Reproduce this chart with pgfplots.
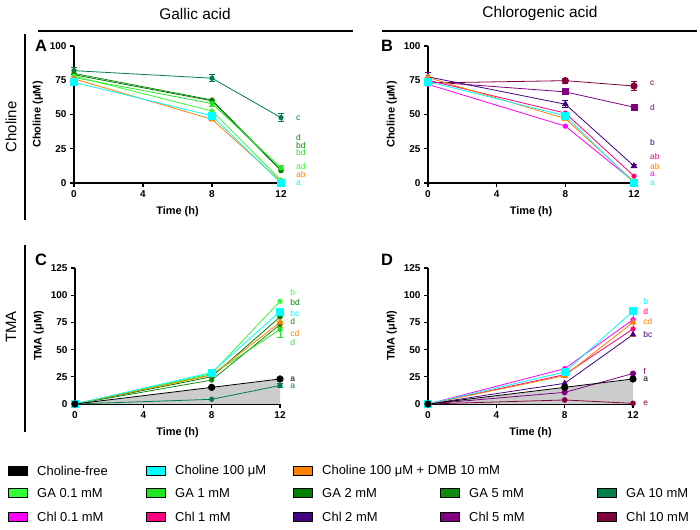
\documentclass[border=0pt]{standalone}
\usepackage{fontspec}
\setmainfont{Liberation Sans}
\usepackage{pgfplots}
\pgfplotsset{compat=1.18}

\definecolor{cyanc}{HTML}{00FFFF}
\definecolor{dmb}{HTML}{FF8000}
\definecolor{ga01}{HTML}{33FF33}
\definecolor{ga1}{HTML}{22E622}
\definecolor{ga2}{HTML}{007F00}
\definecolor{ga5}{HTML}{108A10}
\definecolor{ga10}{HTML}{008048}
\definecolor{chl01}{HTML}{FF00FF}
\definecolor{chl1}{HTML}{FF0080}
\definecolor{chl2}{HTML}{400080}
\definecolor{chl5}{HTML}{800080}
\definecolor{chl10}{HTML}{800040}

\tikzset{lt/.style={font=\fontsize{8.5}{9}\selectfont, anchor=west, inner sep=0pt, text=#1}}

\pgfplotsset{
  panel/.style={
    scale only axis, anchor=south west,
    axis lines=left, axis line style={-, line width=1.3pt},
    xmin=0, xmax=12, xtick={0,4,8,12},
    tick align=outside, major tick length=4bp,
    tick style={black, line width=1.2pt},
    ticklabel style={font=\fontsize{10}{11}\selectfont\bfseries},
    /pgf/number format/assume math mode=true,
    label style={font=\fontsize{11}{13}\selectfont\bfseries},
    xlabel={Time (h)},
    xlabel style={yshift=-2bp},
    clip=false,
    every axis plot/.append style={line width=0.8pt},
  },
  eb/.style={error bars/.cd, y dir=both, y explicit,
    error bar style={line width=0.8pt},
    error mark options={rotate=90, mark size=3bp, line width=0.8pt}},
  cfree/.style={black, mark=*, mark size=3.2bp},
  c100/.style={cyanc, mark=square*, mark size=3.5bp},
  cdmb/.style={dmb, mark=triangle*, mark size=3.4bp},
  sga/.style={#1, mark=*, mark size=2.2bp},
}

\begin{document}
\begin{tikzpicture}
\path[use as bounding box] (0,0) rectangle (700bp,530bp);

% ---------- A: choline, gallic acid
\begin{axis}[panel, at={(74bp,347bp)}, width=207bp, height=137bp,
  ymin=0, ymax=100, ytick={0,25,50,75,100}, ylabel={Choline (μM)}]
\addplot[sga=ga10, eb] coordinates {(0,82) +- (0,2.5) (8,76.5) +- (0,2.5) (12,47.7) +- (0,3)};
\addplot[sga=ga5] coordinates {(0,80) (8,60.6) (12,9.5)};
\addplot[sga=ga2] coordinates {(0,79) (8,60) (12,9)};
\addplot[sga=ga1, eb] coordinates {(0,77) +- (0,2) (8,58) +- (0,2) (12,11) +- (0,2)};
\addplot[sga=ga01] coordinates {(0,78) (8,52.5) (12,2)};
\addplot[cdmb] coordinates {(0,76) (8,46.5) (12,1)};
\addplot[c100] coordinates {(0,73.5) (8,49) (12,0)};
\node[lt=ga10] at (axis cs:12.87,47.2) {c};
\node[lt=ga2] at (axis cs:12.87,33.3) {d};
\node[lt=ga5] at (axis cs:12.87,27.7) {bd};
\node[lt=ga1] at (axis cs:12.87,22.6) {bd};
\node[lt=ga01] at (axis cs:12.87,11.9) {ad};
\node[lt=dmb] at (axis cs:12.87,6) {ab};
\node[lt=cyanc] at (axis cs:12.87,0) {a};
\end{axis}

% ---------- B: choline, chlorogenic acid
\begin{axis}[panel, at={(428bp,347bp)}, width=206bp, height=137bp,
  ymin=0, ymax=100, ytick={0,25,50,75,100}, ylabel={Choline (μM)}]
\addplot[chl10, mark=*, mark size=3.2bp, eb] coordinates {(0,73) (8,74.7) +- (0,2) (12,70.8) +- (0,3)};
\addplot[chl5, mark=square*, mark size=3bp] coordinates {(0,74) (8,66.5) (12,55.3)};
\addplot[chl2, mark=triangle*, mark size=3.2bp, eb] coordinates {(0,77.5) +- (0,3) (8,57.5) +- (0,2.5) (12,12.4) +- (0,1)};
\addplot[sga=chl1] coordinates {(0,75) (8,51) (12,5)};
\addplot[sga=chl01] coordinates {(0,72) (8,41.5) (12,1)};
\addplot[cdmb] coordinates {(0,77) (8,47) (12,1)};
\addplot[c100] coordinates {(0,74) (8,49) (12,0)};
\node[lt=chl10] at (axis cs:12.93,73) {c};
\node[lt=chl5] at (axis cs:12.93,55) {d};
\node[lt=chl2] at (axis cs:12.93,29.4) {b};
\node[lt=chl1] at (axis cs:12.93,19.2) {ab};
\node[lt=dmb] at (axis cs:12.93,12.2) {ab};
\node[lt=chl01] at (axis cs:12.93,6.5) {a};
\node[lt=cyanc] at (axis cs:12.93,0) {a};
\end{axis}

% ---------- C: TMA, gallic acid
\begin{axis}[panel, at={(75bp,126bp)}, width=205bp, height=136bp,
  ymin=0, ymax=125, ytick={0,25,50,75,100,125}, ylabel={TMA (μM)}]
\addplot[fill=gray!40, draw=none, line width=0pt] coordinates {(0,0) (8,15.3) (12,23)} \closedcycle;
\addplot[sga=ga10, eb] coordinates {(0,0) (8,4.3) (12,17) +- (0,2)};
\addplot[sga=ga5] coordinates {(0,0) (8,22) (12,73)};
\addplot[sga=ga2] coordinates {(0,0) (8,25) (12,80)};
\addplot[sga=ga1, eb] coordinates {(0,0) (8,27) (12,68.5) +- (0,7)};
\addplot[sga=ga01] coordinates {(0,0) (8,28) (12,94.4)};
\addplot[cdmb, eb] coordinates {(0,0) (8,26.5) (12,75) +- (0,5)};
\addplot[c100, eb] coordinates {(0,0) (8,29) (12,85) +- (0,3)};
\addplot[cfree] coordinates {(0,0) (8,15.3) (12,23)};
\node[lt=ga01] at (axis cs:12.6,102.4) {b};
\node[lt=ga2] at (axis cs:12.6,93) {bd};
\node[lt=cyanc] at (axis cs:12.6,83) {bc};
\node[lt=ga5] at (axis cs:12.6,75.6) {d};
\node[lt=dmb] at (axis cs:12.6,65) {cd};
\node[lt=ga1] at (axis cs:12.6,56.4) {d};
\node[lt=black] at (axis cs:12.6,23) {a};
\node[lt=ga10] at (axis cs:12.6,16) {a};
\end{axis}

% ---------- D: TMA, chlorogenic acid
\begin{axis}[panel, at={(428bp,126bp)}, width=205bp, height=136bp,
  ymin=0, ymax=125, ytick={0,25,50,75,100,125}, ylabel={TMA (μM)}]
\addplot[fill=gray!40, draw=none, line width=0pt] coordinates {(0,0) (8,15.3) (12,23)} \closedcycle;
\addplot[chl10, mark=*, mark size=2.4bp] coordinates {(0,0) (8,3.7) (12,0.6)};
\addplot[chl5, mark=*, mark size=2.6bp] coordinates {(0,0) (8,10.7) (12,28)};
\addplot[chl2, mark=triangle*, mark size=3bp] coordinates {(0,0) (8,19) (12,63.8)};
\addplot[sga=chl1] coordinates {(0,0) (8,27) (12,69)};
\addplot[sga=chl01] coordinates {(0,0) (8,32.5) (12,77.5)};
\addplot[cdmb, eb] coordinates {(0,0) (8,26) (12,75) +- (0,12.5)};
\addplot[c100] coordinates {(0,0) (8,29.5) (12,85.3)};
\addplot[cfree] coordinates {(0,0) (8,15.3) (12,23)};
\node[lt=cyanc] at (axis cs:12.6,94) {b};
\node[lt=chl1] at (axis cs:12.6,85.3) {d};
\node[lt=dmb] at (axis cs:12.6,75.5) {cd};
\node[lt=chl2] at (axis cs:12.6,64.2) {bc};
\node[lt=chl5] at (axis cs:12.6,29.7) {f};
\node[lt=black] at (axis cs:12.6,22.6) {a};
\node[lt=chl10] at (axis cs:12.6,0.6) {e};
\end{axis}

% ---------- headers, row labels, panel letters, legend (pixel coords, y down)
\begin{scope}[x=1bp, y=-1bp, yshift=530bp]
\node[font=\fontsize{15.5}{17}\selectfont] at (195,14) {Gallic acid};
\node[font=\fontsize{15.5}{17}\selectfont] at (540,14) {Chlorogenic acid};
\draw[line width=1.5bp] (38,31) -- (353,31);
\draw[line width=1.5bp] (382,31) -- (697,31);
\draw[line width=1.5bp] (25,34) -- (25,220);
\draw[line width=1.5bp] (25,245) -- (25,432);
\node[rotate=90, font=\fontsize{15}{17}\selectfont] at (11,127) {Choline};
\node[rotate=90, font=\fontsize{15}{17}\selectfont] at (11,327) {TMA};
\foreach \l/\x/\y in {A/41/46, B/387/46, C/41/260, D/387/260}
  \node[font=\fontsize{16.5}{18}\selectfont\bfseries] at (\x,\y) {\l};
\foreach \x/\y/\c/\t in {
  8/471/black/Choline-free, 146/471/cyanc/Choline 100 μM, 293/471/dmb/Choline 100 μM + DMB 10 mM,
  8/493/ga01/GA 0.1 mM, 146/493/ga1/GA 1 mM, 293/493/ga2/GA 2 mM, 440/493/ga5/GA 5 mM, 597/493/ga10/GA 10 mM,
  8/517/chl01/Chl 0.1 mM, 146/517/chl1/Chl 1 mM, 293/517/chl2/Chl 2 mM, 440/517/chl5/Chl 5 mM, 597/517/chl10/Chl 10 mM}
{
  \filldraw[fill=\c, draw=black, line width=0.5bp] (\x,\y-4.5) rectangle (\x+19,\y+4.5);
  \node[anchor=west, inner sep=0pt, font=\fontsize{13}{15}\selectfont] at (\x+29,\y) {\t};
}
\end{scope}
\end{tikzpicture}
\end{document}
